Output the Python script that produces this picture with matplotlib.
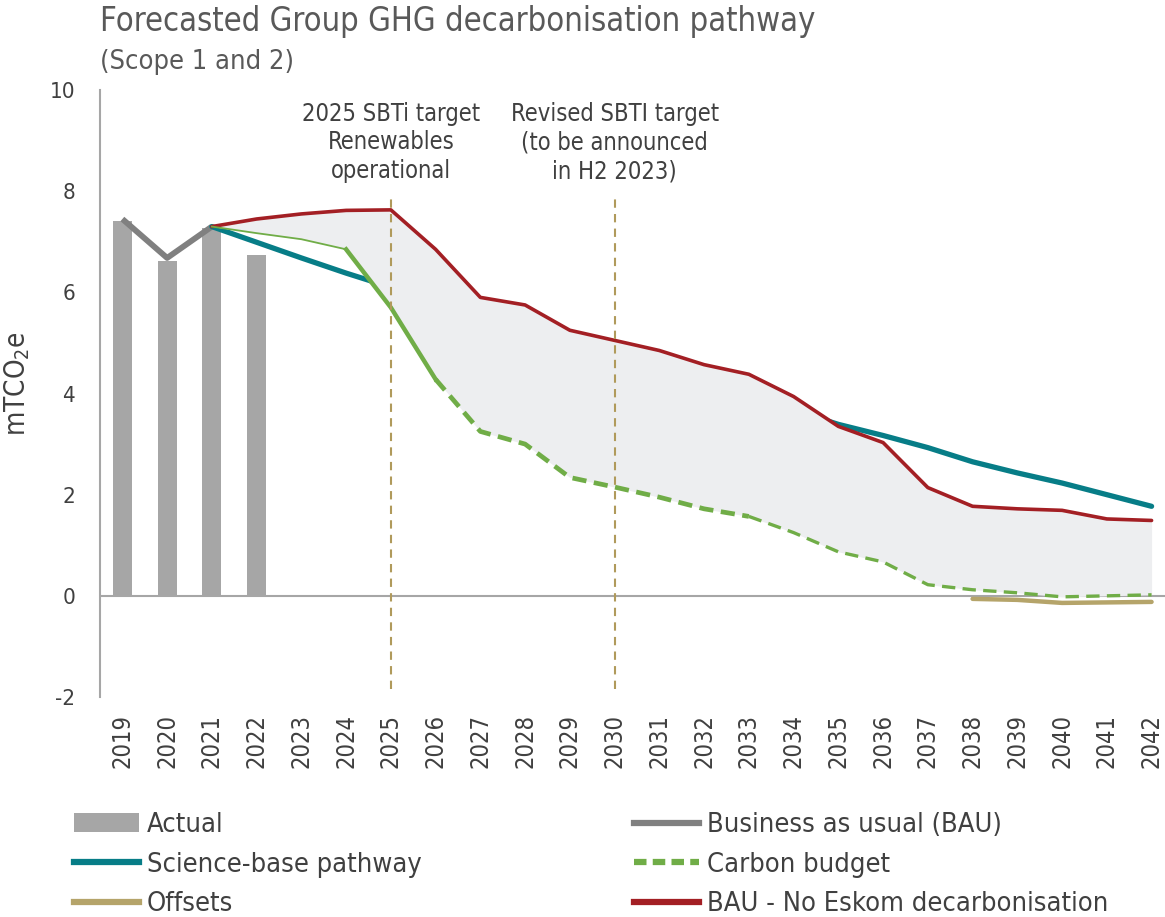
import matplotlib
matplotlib.use('Agg')
import matplotlib.pyplot as plt
from matplotlib.lines import Line2D
from matplotlib.patches import Patch

plt.rcParams['font.family'] = ['DejaVu Sans']
plt.rcParams['font.stretch'] = 'condensed'
plt.rcParams['axes.unicode_minus'] = False

years = list(range(2019, 2043))

# Actual emissions (bars)
actual_years = [2019, 2020, 2021, 2022]
actual = [7.41, 6.62, 7.27, 6.73]

# Business as usual (historic line)
bau_years = [2019, 2020, 2021]
bau = [7.45, 6.68, 7.3]

# Science-base pathway
sbp_years = list(range(2021, 2043))
sbp = [7.3, 6.99, 6.68, 6.38, 6.1, 5.82, 5.54, 5.27, 5.0, 4.73, 4.46,
       4.2, 3.93, 3.67, 3.39, 3.17, 2.93, 2.65, 2.43, 2.23, 2.0, 1.77]

# BAU - No Eskom decarbonisation
eskom_years = list(range(2021, 2043))
eskom = [7.3, 7.45, 7.55, 7.62, 7.63, 6.85, 5.9, 5.75, 5.25, 5.05, 4.85,
         4.57, 4.38, 3.94, 3.35, 3.03, 2.14, 1.77, 1.72, 1.69, 1.52, 1.49]

# Carbon budget
budget_years = list(range(2021, 2043))
budget = [7.3, 7.17, 7.05, 6.85, 5.7, 4.28, 3.25, 3.0, 2.34, 2.15, 1.95,
          1.72, 1.57, 1.25, 0.87, 0.67, 0.22, 0.12, 0.06, -0.02, 0.0, 0.02]

# Offsets
offset_years = [2038, 2039, 2040, 2041, 2042]
offsets = [-0.06, -0.08, -0.14, -0.13, -0.12]

target_years = [2025, 2030]
target_labels = ['2025 SBTi target\nRenewables\noperational',
                 'Revised SBTI target\n(to be announced\nin H2 2023)']

grey_bar = '#A6A6A6'
grey_line = '#808080'
teal = '#077D87'
red = '#A31F24'
green = '#70AD47'
tan = '#B5A46A'
fill_col = '#EDEEF0'
text_col = '#404040'

fig = plt.figure(figsize=(11.65, 9.17), dpi=100)
ax = fig.add_axes([100 / 1165, 220 / 917, 1065 / 1165, 607 / 917])

ax.bar(actual_years, actual, width=0.42, color=grey_bar, zorder=2)
ax.plot(bau_years, bau, color=grey_line, lw=4.2, zorder=3, solid_capstyle='butt')
ax.plot(sbp_years, sbp, color=teal, lw=3.8, zorder=3, solid_capstyle='round')

# shaded band between carbon budget and BAU - No Eskom
ax.fill_between(budget_years, budget, eskom, color=fill_col, lw=0, zorder=4)

ax.plot(eskom_years, eskom, color=red, lw=2.6, zorder=6, solid_capstyle='round')

# carbon budget: thin solid, then thick solid, then dashed
ax.plot(budget_years[:4], budget[:4], color=green, lw=1.3, zorder=6)
ax.plot(budget_years[3:6], budget[3:6], color=green, lw=3.2, zorder=6)
ax.plot(budget_years[5:13], budget[5:13], color=green, lw=3.4, zorder=6,
        dashes=(3, 1.6))
ax.plot(budget_years[12:], budget[12:], color=green, lw=2.4, zorder=6,
        dashes=(4, 2.2))

ax.plot(offset_years, offsets, color=tan, lw=3.2, zorder=5, solid_capstyle='round')

for yr, lab in zip(target_years, target_labels):
    ax.plot([yr, yr], [-1.85, 7.9], color='#B09A5B', lw=1.5, dashes=(4, 3), zorder=7)
    ax.text(yr, 9.77, lab, ha='center', va='top', fontsize=17, color=text_col,
            linespacing=1.25)

ax.axhline(0, color='#A6A6A6', lw=1.5, zorder=1)

ax.set_xlim(2018.5, 2042.3)
ax.set_ylim(-2, 10)
ax.set_yticks(range(-2, 11, 2))
ax.set_xticks(years)
ax.set_xticklabels([str(y) for y in years], rotation=90, fontsize=17, color=text_col)
ax.tick_params(axis='y', labelsize=16, colors=text_col, length=0, pad=18)
ax.tick_params(axis='x', length=0, pad=12)
for side in ['top', 'right', 'bottom']:
    ax.spines[side].set_visible(False)
ax.spines['left'].set_color('#A6A6A6')
ax.spines['left'].set_linewidth(1.5)
ax.set_ylabel('mTCO$_2$e', fontsize=20, color=text_col)
ax.yaxis.set_label_coords(-0.064, 0.516)

fig.text(100 / 1165, 1 - 21 / 917, 'Forecasted Group GHG decarbonisation pathway',
         fontsize=23.5, color='#595959', va='center', ha='left')
fig.text(100 / 1165, 1 - 62 / 917, '(Scope 1 and 2)',
         fontsize=19.5, color='#595959', va='center', ha='left')

left_handles = [
    Patch(facecolor=grey_bar, edgecolor='none'),
    Line2D([], [], color=teal, lw=4.5),
    Line2D([], [], color=tan, lw=4.5),
]
left_labels = ['Actual', 'Science-base pathway', 'Offsets']
right_handles = [
    Line2D([], [], color=grey_line, lw=4.5),
    Line2D([], [], color=green, lw=4.5, dashes=(2, 1)),
    Line2D([], [], color=red, lw=4.5),
]
right_labels = ['Business as usual (BAU)', 'Carbon budget', 'BAU - No Eskom decarbonisation']

leg_kw = dict(frameon=False, fontsize=19.5, handlelength=2.4, handletextpad=0.3,
              labelspacing=0.5, borderaxespad=0, borderpad=0, labelcolor=text_col)
leg1 = fig.legend(left_handles, left_labels, loc='upper left',
                  bbox_to_anchor=(74 / 1165, 1 - 812 / 917), **leg_kw)
leg2 = fig.legend(right_handles, right_labels, loc='upper left',
                  bbox_to_anchor=(634 / 1165, 1 - 812 / 917), **leg_kw)

fig.savefig('out.png', dpi=100)
